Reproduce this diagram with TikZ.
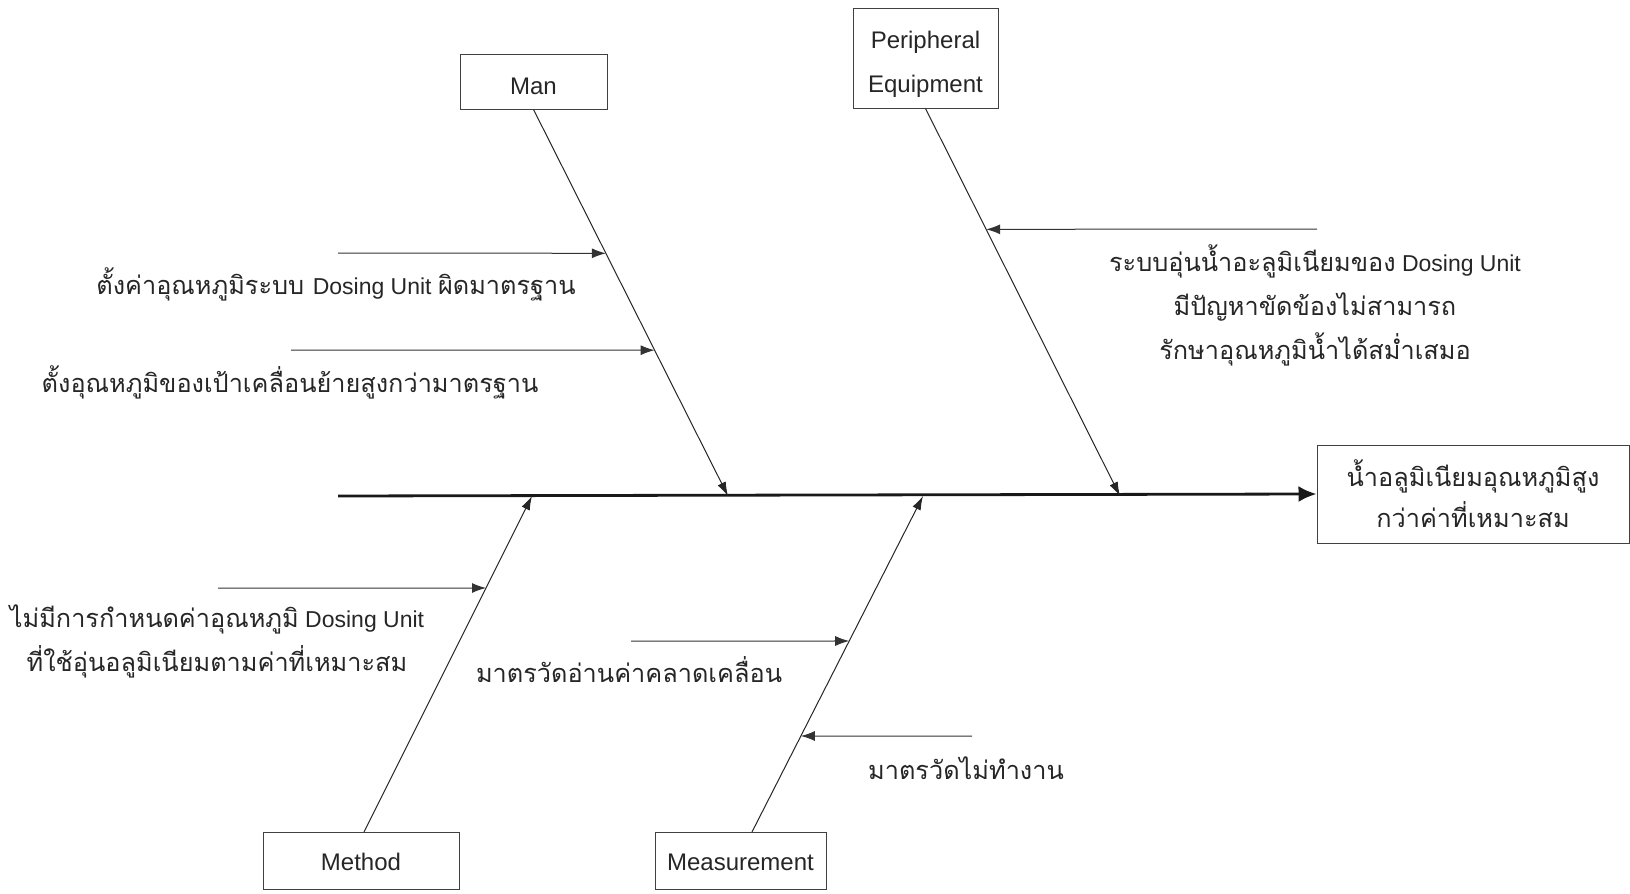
\documentclass[tikz,border=0pt]{standalone}
\usepackage{fontspec}
\setmainfont{Liberation Sans}
\newfontfamily\thai[Script=Thai,Scale=1.1]{Loma}
\usetikzlibrary{arrows.meta,calc}
\begin{document}
\begin{tikzpicture}[x=0.5pt,y=-0.5pt,
  every node/.style={font=\fontsize{11.5}{22}\selectfont, text=black!85},
  catbox/.style={draw=black!75, line width=0.5pt, inner sep=0pt, font=\fontsize{12}{22}\selectfont},
  bone/.style={draw=black!85, line width=0.5pt, -{Latex[length=7pt,width=4.5pt]}},
  cause/.style={draw=black!80, line width=0.5pt, -{Latex[length=7pt,width=5pt]}},
  spine/.style={draw=black!90, line width=1.4pt, -{Latex[length=9pt,width=8pt]}},
  lbl/.style={align=center, inner sep=0pt}]
\useasboundingbox (0,0) rectangle (1630,894);

% category boxes
\node[catbox, minimum width=73.5pt, minimum height=27.5pt, text height=12.6pt, text depth=0pt]
  (man) at (533.5,81.5) {Man};
\node[catbox, minimum width=72.5pt, minimum height=50pt, align=center]
  (per) at (925.5,58) {\rule{0pt}{15pt}Peripheral\\Equipment};
\node[catbox, minimum width=98pt, minimum height=28.5pt, text height=10pt, text depth=0pt]
  (meth) at (361,860.5) {Method};
\node[catbox, minimum width=85.5pt, minimum height=28.5pt, text height=10pt, text depth=0pt]
  (meas) at (740.5,860.5) {Measurement};
\node[catbox, minimum width=156pt, minimum height=49pt, align=center, font=\fontsize{11.5}{20.5}\selectfont]
  (eff) at (1473,494) {\thai น้ำอลูมิเนียมอุณหภูมิสูง\\\thai กว่าค่าที่เหมาะสม};

% spine
\coordinate (tail) at (338,496);
\draw[spine] (tail) -- (eff.west);

% points where the bones meet the spine
\coordinate (sMan) at (728,496);
\coordinate (sPer) at (1120,496);
\coordinate (sMeth) at (532,496);
\coordinate (sMeas) at (923,496);
\coordinate (bMeth) at (364,832);
\coordinate (bMeas) at (752,832);

\draw[bone] (man.south) -- (sMan);
\draw[bone] (per.south) -- (sPer);
\draw[bone] (bMeth) -- (sMeth);
\draw[bone] (bMeas) -- (sMeas);

% cause arrows
\coordinate (c1a) at (338,253);  \coordinate (c1b) at ($(man.south)!{(253-109)/387}!(sMan)$);
\coordinate (c2a) at (291,350);  \coordinate (c2b) at ($(man.south)!{(350-109)/387}!(sMan)$);
\coordinate (c3a) at (1317,229); \coordinate (c3b) at ($(per.south)!{(229-108)/388}!(sPer)$);
\coordinate (c4a) at (218,588);  \coordinate (c4b) at ($(sMeth)!{(588-496)/336}!(bMeth)$);
\coordinate (c5a) at (631,641);  \coordinate (c5b) at ($(sMeas)!{(641-496)/336}!(bMeas)$);
\coordinate (c6a) at (972,736);  \coordinate (c6b) at ($(sMeas)!{(736-496)/336}!(bMeas)$);
\draw[cause] (c1a) -- (c1b);
\draw[cause] (c2a) -- (c2b);
\draw[cause] (c3a) -- (c3b);
\draw[cause] (c4a) -- (c4b);
\draw[cause] (c5a) -- (c5b);
\draw[cause] (c6a) -- (c6b);

% cause texts
\node[lbl] (t1) at (336,284) {\thai ตั้งค่าอุณหภูมิระบบ \rmfamily Dosing Unit \thai ผิดมาตรฐาน};
\node[lbl] (t2) at (290,382) {\thai ตั้งอุณหภูมิของเป้าเคลื่อนย้ายสูงกว่ามาตรฐาน};
\node[lbl] (t3) at (1315,305) {{\thai ระบบอุ่นน้ำอะลูมิเนียมของ} Dosing Unit\\
  \thai มีปัญหาขัดข้องไม่สามารถ\\\thai รักษาอุณหภูมิน้ำได้สม่ำเสมอ};
\node[lbl] (t4) at (217,641) {{\thai ไม่มีการกำหนดค่าอุณหภูมิ} Dosing Unit\\\thai ที่ใช้อุ่นอลูมิเนียมตามค่าที่เหมาะสม};
\node[lbl] (t5) at (629,670) {\thai มาตรวัดอ่านค่าคลาดเคลื่อน};
\node[lbl] (t6) at (966,768) {\thai มาตรวัดไม่ทำงาน};
\end{tikzpicture}
\end{document}
